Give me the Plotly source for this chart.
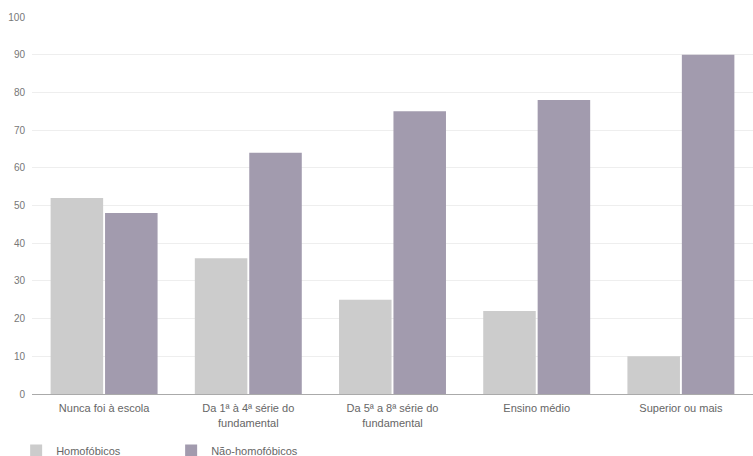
import plotly.graph_objects as go

categories = [
    "Nunca foi à escola",
    "Da 1ª à 4ª série do<br>fundamental",
    "Da 5ª a 8ª série do<br>fundamental",
    "Ensino médio",
    "Superior ou mais",
]
homofobicos = [52, 36, 25, 22, 10]
nao_homofobicos = [48, 64, 75, 78, 90]
y_ticks = list(range(0, 101, 10))

fig = go.Figure()
fig.add_trace(go.Bar(x=categories, y=homofobicos, name="Homofóbicos",
                     marker=dict(color="#cccccc", line=dict(width=0))))
fig.add_trace(go.Bar(x=categories, y=nao_homofobicos, name="Não-homofóbicos",
                     marker=dict(color="#a29bae", line=dict(width=0))))

fig.update_layout(
    width=753, height=456,
    margin=dict(l=32, r=0, t=17, b=62, autoexpand=False),
    paper_bgcolor="white", plot_bgcolor="white",
    barmode="group", bargap=0.245, bargroupgap=0.035,
    font=dict(family="Arial, Liberation Sans", size=11, color="#666666"),
    showlegend=True,
    legend=dict(orientation="h", x=-0.022, xanchor="left", y=-0.188, yanchor="bottom",
                bgcolor="rgba(0,0,0,0)",
                font=dict(size=11, color="#666666"), entrywidth=110,
                itemsizing="constant"),
    xaxis=dict(showgrid=False, showline=True, linecolor="#aaaaaa", linewidth=1,
               ticks="outside", ticklen=4, tickcolor="rgba(0,0,0,0)",
               tickfont=dict(size=11, color="#666666")),
    yaxis=dict(range=[0, 100], tickvals=y_ticks, showgrid=True,
               gridcolor="#eeeeee", gridwidth=1, zeroline=False,
               ticks="outside", ticklen=4, tickcolor="rgba(0,0,0,0)",
               tickfont=dict(size=10, color="#777777")),
)

fig.write_html("out.html")
